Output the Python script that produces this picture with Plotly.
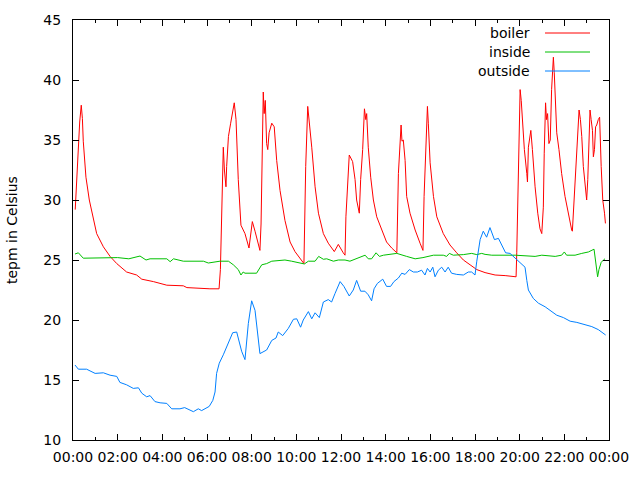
import pandas as pd
import plotly.graph_objects as go

# ---- data (hours since midnight, degrees Celsius) ----
boiler_h = [0.10, 0.17, 0.24, 0.30, 0.37, 0.42, 0.46, 0.58, 0.73, 0.91, 1.06, 1.36, 1.66, 1.96, 2.40, 2.85,
            3.08, 3.60, 4.20, 4.94, 5.10, 6.13, 6.54, 6.60, 6.66, 6.73, 6.78, 6.85, 6.88, 6.96, 7.06, 7.18,
            7.22, 7.30, 7.40, 7.52, 7.70, 7.88, 8.03, 8.15, 8.37, 8.42, 8.48, 8.52, 8.56, 8.61, 8.67, 8.72,
            8.78, 8.90, 9.01, 9.12, 9.27, 9.49, 9.72, 9.94, 10.34, 10.42, 10.51, 10.56, 10.61, 10.69, 10.84,
            10.99, 11.21, 11.43, 11.70, 11.88, 12.10, 12.18, 12.22, 12.37, 12.52, 12.63, 12.70, 12.82, 12.88,
            12.97, 13.05, 13.11, 13.15, 13.22, 13.33, 13.45, 13.60, 13.82, 14.04, 14.27, 14.50, 14.57, 14.69,
            14.73, 14.79, 14.87, 14.94, 15.09, 15.32, 15.54, 15.67, 15.72, 15.81, 15.87, 15.91, 15.99, 16.14,
            16.29, 16.58, 16.88, 17.18, 17.48, 17.78, 18.08, 18.45, 18.90, 19.35, 19.79, 19.84, 19.87, 19.91,
            19.97, 20.02, 20.07, 20.12, 20.21, 20.32, 20.35, 20.39, 20.46, 20.50, 20.57, 20.69, 20.81, 20.91,
            20.99, 21.06, 21.10, 21.16, 21.20, 21.25, 21.31, 21.37, 21.43, 21.51, 21.55, 21.60, 21.66, 21.76,
            21.88, 22.03, 22.18, 22.33, 22.36, 22.42, 22.51, 22.60, 22.66, 22.72, 22.78, 22.85, 22.93, 23.00,
            23.05, 23.11, 23.15, 23.20, 23.26, 23.30, 23.35, 23.40, 23.45, 23.52, 23.58, 23.65, 23.72, 23.80,
            23.84]
boiler_v = [29.2, 31.9, 35.0, 36.5, 37.9, 36.8, 34.9, 31.9, 30.0, 28.3, 27.2, 26.1, 25.3, 24.7, 24.0, 23.75,
            23.4, 23.2, 22.9, 22.85, 22.7, 22.6, 22.6, 24.2, 30.0, 34.4, 32.5, 31.1, 32.8, 35.3, 36.4, 37.5,
            38.1, 36.7, 31.7, 27.9, 27.2, 26.0, 28.2, 27.4, 25.8, 28.0, 35.8, 39.0, 37.2, 38.3, 34.7, 34.2,
            35.6, 36.4, 36.1, 33.3, 30.8, 28.3, 26.5, 25.7, 24.7, 32.8, 37.8, 36.9, 36.4, 34.4, 31.1,
            28.9, 27.2, 26.4, 25.7, 26.3, 25.6, 25.4, 28.6, 33.75, 33.2, 31.7, 30.0, 28.9, 31.7,
            34.2, 37.6, 36.7, 37.2, 34.4, 31.9, 30.0, 28.6, 27.5, 26.5, 26.0, 25.6, 32.2, 36.25,
            34.9, 35.0, 33.3, 30.3, 28.9, 27.5, 26.4, 25.8, 30.3, 34.7, 37.8, 36.4, 33.1, 30.3,
            28.6, 27.2, 26.25, 25.6, 25.0, 24.6, 24.2, 23.95, 23.75, 23.7, 23.6, 23.6, 25.6, 29.4,
            37.2, 39.2, 38.3, 36.4, 34.2, 32.2, 31.5, 34.4, 35.6, 35.8, 34.2, 31.1, 28.9, 27.6,
            27.2, 29.4, 33.9, 38.1, 36.7, 37.2, 34.7, 35.0, 39.2, 41.9, 40.6, 37.8, 35.6, 34.2,
            32.2, 30.3, 28.75, 27.5, 27.4, 29.4, 32.8, 35.0, 37.5, 36.7, 35.3, 32.8, 31.1, 30.0,
            31.7, 35.0, 37.5, 36.7, 35.8, 33.6, 34.2, 36.1, 36.25, 36.7, 36.9, 32.8, 30.0, 28.9,
            28.05]

inside_h = [0.09, 0.24, 0.46, 1.36, 2.0, 2.5, 3.0, 3.27, 3.45, 4.2, 4.35, 4.5, 4.94, 5.84, 6.06, 6.58,
            6.96, 7.18, 7.40, 7.52, 7.62, 7.70, 8.22, 8.45, 8.67, 8.90, 9.49, 9.79, 10.09, 10.36, 10.54,
            10.84, 11.00, 11.21, 11.36, 11.66, 11.88, 12.18, 12.4, 12.70, 13.08, 13.22, 13.37, 13.57,
            13.72, 13.90, 14.50, 14.94, 15.32, 15.67, 16.14, 16.58, 16.73, 16.85, 17.03, 17.48, 17.85,
            18.08, 18.15, 18.30, 18.45, 18.75, 19.80, 20.69, 20.99, 21.59, 21.88, 22.00, 22.10, 22.48,
            22.78, 23.08, 23.33, 23.41, 23.49, 23.55, 23.65, 23.75, 23.82]
inside_v = [25.5, 25.6, 25.15, 25.15, 25.2, 25.1, 25.33, 25.0, 25.1, 25.1, 24.86, 25.1, 24.9, 24.9, 24.75, 24.9,
            24.9, 24.6, 24.2, 23.75, 24.0, 23.9, 23.9, 24.6, 24.7, 24.9, 25.0, 24.9, 24.8, 24.67, 24.9,
            24.9, 25.3, 25.06, 25.1, 24.9, 25.0, 25.0, 24.9, 25.1, 25.4, 25.1, 25.1, 25.6,
            25.3, 25.4, 25.55, 25.3, 25.1, 25.2, 25.4, 25.4, 25.3, 25.55, 25.4, 25.45, 25.55,
            25.45, 25.47, 25.55, 25.47, 25.4, 25.4, 25.3, 25.4, 25.3, 25.4, 25.67, 25.4, 25.4,
            25.55, 25.67, 25.9, 24.7, 23.6, 24.2, 24.8, 25.0, 25.1]

outside_h = [0.09, 0.24, 0.61, 0.99, 1.36, 1.66, 1.96, 2.10, 2.40, 2.70, 2.93, 3.08, 3.30, 3.45, 3.67, 3.90,
             4.20, 4.42, 4.79, 5.00, 5.39, 5.61, 5.76, 6.06, 6.10, 6.26, 6.36, 6.43, 6.55, 6.73, 6.96, 7.15,
             7.33, 7.55, 7.70, 7.85, 8.00, 8.15, 8.37, 8.67, 8.90, 9.09, 9.19, 9.39, 9.64, 9.87, 10.02,
             10.19, 10.31, 10.54, 10.69, 10.84, 11.03, 11.21, 11.43, 11.58, 11.73, 11.88, 11.96, 12.13,
             12.37, 12.55, 12.70, 12.88, 13.07, 13.22, 13.37, 13.48, 13.63, 13.87, 14.04, 14.22, 14.37,
             14.57, 14.72, 14.87, 15.06, 15.24, 15.42, 15.61, 15.76, 15.87, 15.99, 16.11, 16.21, 16.36,
             16.51, 16.66, 16.80, 16.95, 17.18, 17.48, 17.70, 17.85, 18.00, 18.08, 18.20, 18.23, 18.37,
             18.52, 18.67, 18.87, 19.05, 19.20, 19.37, 19.57, 19.72, 19.87, 20.09, 20.24, 20.32, 20.39,
             20.61, 20.84, 21.14, 21.43, 21.66, 21.96, 22.26, 22.56, 22.93, 23.23, 23.52, 23.75, 23.85]
outside_v = [16.25, 15.9, 15.9, 15.55, 15.6, 15.4, 15.3, 14.8, 14.6, 14.3, 14.35, 13.9, 13.6, 13.7, 13.2, 13.1,
             13.05, 12.6, 12.6, 12.7, 12.36, 12.6, 12.45, 12.7, 12.8, 13.3, 14.0, 15.55, 16.4, 17.1, 18.06, 18.94,
             19.0, 17.4, 16.7, 19.7, 21.6, 20.8, 17.2, 17.5, 18.3, 18.5, 19.0, 18.7, 19.3, 20.06, 20.1,
             19.4, 20.0, 20.7, 20.1, 20.6, 20.2, 21.5, 21.7, 21.5, 22.2, 22.8, 23.2, 22.8,
             22.0, 22.5, 23.3, 22.4, 22.4, 22.1, 21.6, 22.6, 23.05, 23.4, 22.8, 22.8, 23.2,
             23.5, 23.9, 23.8, 24.2, 24.0, 24.0, 24.15, 23.75, 24.3, 24.0, 24.4, 23.6, 24.15,
             24.4, 24.0, 24.4, 23.9, 23.8, 23.75, 24.0, 24.0, 23.75, 24.9, 26.4, 26.7, 27.4,
             26.9, 27.7, 26.7, 26.8, 26.25, 25.6, 25.55, 25.3, 25.06, 24.7, 24.4, 23.3, 22.5,
             21.8, 21.4, 21.1, 20.7, 20.4, 20.2, 19.9, 19.8, 19.6, 19.45, 19.2, 18.9, 18.75]

series_names = ["boiler", "inside", "outside"]
series_colors = ["#ff0000", "#00c000", "#0080ff"]
y_ticks = [10, 15, 20, 25, 30, 35, 40, 45]
y_title = "tepm in Celsius"

base = pd.Timestamp("2000-01-01 00:00")


def to_time(hours):
    return [base + pd.Timedelta(hours=h) for h in hours]


FONT = "DejaVu Sans"
fig = go.Figure()
for name, hrs, vals, col in zip(series_names,
                                [boiler_h, inside_h, outside_h],
                                [boiler_v, inside_v, outside_v],
                                series_colors):
    fig.add_trace(go.Scatter(x=to_time(hrs), y=vals, mode="lines", name=name,
                             line=dict(color=col, width=1), showlegend=False))

# gnuplot-style key: text right-aligned, sample line on its right
L, R, T, B = 73, 31, 20, 40
PW, PH = 640 - L - R, 480 - T - B
for i, (name, col) in enumerate(zip(series_names, series_colors)):
    ypix = 33 + 19 * i
    yp = 1 - (ypix - T) / PH
    fig.add_annotation(xref="paper", yref="paper", x=(532 - L) / PW, y=yp, text=name,
                       showarrow=False, xanchor="right", yanchor="middle",
                       font=dict(family=FONT, size=14, color="black"))
    fig.add_shape(type="line", xref="paper", yref="paper",
                  x0=(545 - L) / PW, x1=(590 - L) / PW, y0=yp, y1=yp,
                  line=dict(color=col, width=1))

fig.add_annotation(xref="paper", yref="paper", x=-(L - 12) / PW, y=0.5, text=y_title,
                   textangle=-90, showarrow=False, xanchor="center", yanchor="middle",
                   font=dict(family=FONT, size=14, color="black"))

fig.update_layout(
    width=640, height=480,
    margin=dict(l=L, r=R, t=T, b=B, pad=0),
    paper_bgcolor="white", plot_bgcolor="white",
    font=dict(family=FONT, size=14, color="black"),
    xaxis=dict(range=[base, base + pd.Timedelta(hours=24)], type="date",
               tickformat="%H:%M", dtick=2 * 3600000, tick0=base,
               ticks="inside", ticklen=6, tickwidth=1, tickcolor="black",
               minor=dict(ticks="inside", ticklen=3, dtick=3600000, tickcolor="black", showgrid=False),
               showline=True, linecolor="black", linewidth=1, mirror="ticks",
               showgrid=False, zeroline=False, ticklabelstandoff=4, automargin=False,
               tickfont=dict(family=FONT, size=14, color="black")),
    yaxis=dict(range=[10, 45], tickvals=y_ticks, ticktext=[str(v) for v in y_ticks],
               ticks="inside", ticklen=6, tickwidth=1, tickcolor="black",
               showline=True, linecolor="black", linewidth=1, mirror="ticks",
               showgrid=False, zeroline=False, ticklabelstandoff=8, automargin=False,
               tickfont=dict(family=FONT, size=14, color="black")),
)

fig.write_html("out.html", config={"displayModeBar": False},
               post_script="document.body.style.margin='0';document.body.style.overflow='hidden';")
